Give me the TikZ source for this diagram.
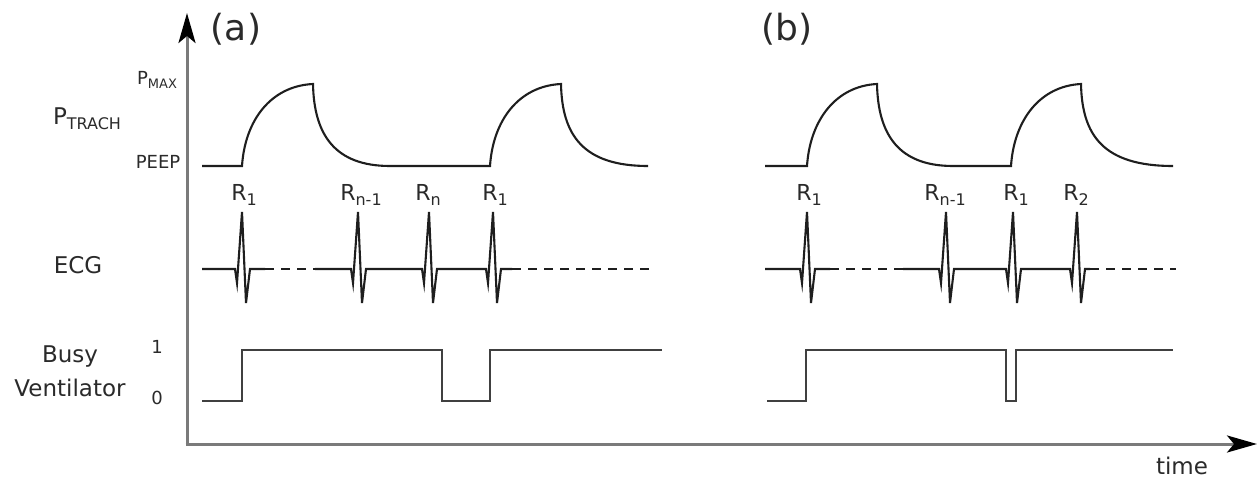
\documentclass[tikz,border=0pt]{standalone}
\usepackage{fontspec}
\setmainfont{DejaVu Sans}
\usetikzlibrary{arrows.meta}
\definecolor{txt}{HTML}{2A2A2A}
\definecolor{axisgray}{HTML}{7A7A7A}
\definecolor{wavec}{HTML}{1E1E1E}
\newcommand\fs[1]{\fontsize{#1}{#1}\selectfont}
\newcommand\rsub[1]{\raisebox{-4.5pt}{\fs{16}#1}}
\begin{document}
\begin{tikzpicture}[x=1pt,y=-1pt,
  lbl/.style={inner sep=0pt,text=txt,font=\fs{23}},
  small/.style={inner sep=0pt,text=txt,font=\fs{18}},
  rlab/.style={inner sep=0pt,text=txt,font=\fs{22}},
  axis/.style={draw=axisgray,line width=3pt,-{Stealth[length=30pt,width=17pt,inset=7pt,color=black]}},
  wave/.style={draw=wavec,line width=2.1pt,line join=miter},
  dwave/.style={wave,dash pattern=on 9pt off 7pt},
  busy/.style={draw=wavec!85,line width=2.4pt,line join=miter}]
\useasboundingbox (0,0) rectangle (1257,479);

% axes
\coordinate (O) at (187,444);
\coordinate (Ytop) at (187,13);
\coordinate (Xend) at (1257,444);
\draw[axis] (O) -- (Ytop);
\draw[axis] ([xshift=-1.5pt]O) -- (Xend);

% panel titles
\node[inner sep=0pt,text=txt,font=\fs{36}] (ta) at (236,29) {(a)};
\node[inner sep=0pt,text=txt,font=\fs{36}] (tb) at (787,29) {(b)};
\node[lbl] (time) at (1182,466) {time};

% left labels
\node[lbl] (ptrach) at (87,119) {P\raisebox{-5pt}{\fs{16}TRACH}};
\node[small] (pmax) at (157,80) {P\raisebox{-4pt}{\fs{13}MAX}};
\node[small] (peep) at (158,162) {PEEP};
\node[lbl] (ecg) at (78,265) {ECG};
\node[lbl] (busy) at (70,357) {Busy};
\node[lbl] (vent) at (70,388) {Ventilator};
\node[small] (one) at (157,347) {1};
\node[small] (zero) at (157,398) {0};

% pressure (a)
\draw[wave] (202,166) -- (242,166)
  .. controls (245,120) and (271,86) .. (313,84)
  .. controls (314,135) and (335,166) .. (390,166) -- (490,166)
  .. controls (493,120) and (519,86) .. (561,84)
  .. controls (562,135) and (583,166) .. (648,166);
% pressure (b)
\draw[wave] (765,166) -- (807,166)
  .. controls (810,120) and (836,86) .. (877,84)
  .. controls (878,135) and (899,166) .. (953,166) -- (1011,166)
  .. controls (1014,120) and (1040,86) .. (1081,84)
  .. controls (1082,135) and (1103,166) .. (1173,166);

% ECG (a)
\draw[wave] (202,269) -- (235,269) -- (237,283) -- (242,212) -- (246,303) -- (250,269) -- (265,269);
\draw[dwave] (265,269) -- (315,269);
\draw[wave] (315,269) -- (351,269) -- (353,283) -- (358,212) -- (362,303) -- (366,269)
  -- (422,269) -- (424,283) -- (429,212) -- (433,303) -- (437,269)
  -- (486,269) -- (488,283) -- (493,212) -- (497,303) -- (501,269) -- (512,269);
\draw[dwave] (512,269) -- (656,269);
\node[rlab] (ra1) at (244,195) {R\rsub{1}};
\node[rlab] (ra2) at (361,195) {R\rsub{n-1}};
\node[rlab] (ra3) at (428,195) {R\rsub{n}};
\node[rlab] (ra4) at (495,195) {R\rsub{1}};

% ECG (b)
\draw[wave] (765,269) -- (800,269) -- (802,283) -- (807,212) -- (811,303) -- (815,269) -- (830,269);
\draw[dwave] (830,269) -- (903,269);
\draw[wave] (903,269) -- (939,269) -- (941,283) -- (946,212) -- (950,303) -- (954,269)
  -- (1006,269) -- (1008,283) -- (1013,212) -- (1017,303) -- (1021,269)
  -- (1070,269) -- (1072,283) -- (1077,212) -- (1081,303) -- (1085,269) -- (1090,269);
\draw[dwave] (1090,269) -- (1176,269);
\node[rlab] (rb1) at (809,195) {R\rsub{1}};
\node[rlab] (rb2) at (945,195) {R\rsub{n-1}};
\node[rlab] (rb3) at (1016,195) {R\rsub{1}};
\node[rlab] (rb4) at (1076,195) {R\rsub{2}};

% busy (a)
\draw[busy] (202,401) -- (242,401) -- (242,350) -- (442,350) -- (442,401) -- (490,401) -- (490,350) -- (662,350);
% busy (b)
\draw[busy] (767,401) -- (806,401) -- (806,350) -- (1006,350) -- (1006,401) -- (1016,401) -- (1016,350) -- (1173,350);
\end{tikzpicture}
\end{document}
